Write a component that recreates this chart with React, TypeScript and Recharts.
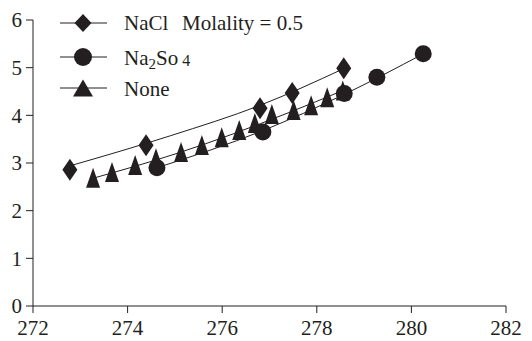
import {
  ComposedChart,
  Scatter,
  Line,
  XAxis,
  YAxis,
  Legend,
} from "recharts";

const INK = "#231f20";
const FONT = "Liberation Serif";

// measured points
const naclT = [272.78, 274.39, 276.8, 277.48, 278.57];
const naclV = [2.86, 3.37, 4.15, 4.47, 4.99];

const na2so4T = [274.62, 276.86, 278.58, 279.27, 280.25];
const na2so4V = [2.9, 3.65, 4.46, 4.8, 5.29];

const noneT = [
  273.27, 273.67, 274.16, 274.6, 275.13, 275.57, 275.99, 276.36, 276.69,
  277.05, 277.51, 277.88, 278.22, 278.55,
];
const noneV = [
  2.69, 2.81, 2.96, 3.1, 3.23, 3.38, 3.54, 3.69, 3.84, 4.03, 4.11, 4.21, 4.38,
  4.52,
];

// fitted trend curves
const naclFitT = [272.78, 274.9, 276.8, 278.57];
const naclFitV = [2.94, 3.57, 4.21, 4.98];
const na2so4FitT = [274.62, 276.86, 278.58, 280.25];
const na2so4FitV = [2.9, 3.68, 4.44, 5.29];
const noneFitT = [273.27, 275.07, 277.39, 278.55];
const noneFitV = [2.68, 3.21, 4.05, 4.52];

const xTicks = [272, 274, 276, 278, 280, 282];
const yTicks = [0, 1, 2, 3, 4, 5, 6];

const zip = (t: number[], v: number[]) => t.map((x, i) => ({ x, y: v[i] }));

const diamond = (cx: number, cy: number, w: number, h: number) =>
  `M${cx},${cy - h / 2}L${cx + w / 2},${cy}L${cx},${cy + h / 2}L${cx - w / 2},${cy}Z`;
const triangle = (cx: number, cy: number, w: number, h: number) =>
  `M${cx},${cy - h / 2}L${cx + w / 2},${cy + h / 2}L${cx - w / 2},${cy + h / 2}Z`;

const DiamondDot = (p: any) => <path d={diamond(p.cx, p.cy, 15, 22)} fill={INK} />;
const CircleDot = (p: any) => <circle cx={p.cx} cy={p.cy} r={8.5} fill={INK} />;
const TriangleDot = (p: any) => <path d={triangle(p.cx, p.cy, 14, 20)} fill={INK} />;

function LegendBox() {
  const rows = [23, 57, 88];
  return (
    <svg width={330} height={110} style={{ display: "block" }}>
      {rows.map((y) => (
        <line key={y} x1={60} x2={107} y1={y} y2={y} stroke={INK} strokeWidth={1} />
      ))}
      <path d={diamond(83, 23, 17, 18)} fill={INK} />
      <circle cx={83} cy={57} r={9} fill={INK} />
      <path d={triangle(83, 88, 20, 17)} fill={INK} />
      <g fontFamily={FONT} fontSize={21} fill={INK}>
        <text x={124} y={30}>NaCl</text>
        <text x={182} y={30}>Molality = 0.5</text>
        <text x={124} y={65}>
          Na<tspan fontSize={15} dy={4}>2</tspan>
          <tspan dy={-4}>So</tspan>
          <tspan fontSize={16} dx={4} dy={1}>4</tspan>
        </text>
        <text x={124} y={96}>None</text>
      </g>
    </svg>
  );
}

export default function App() {
  const tick = { fontSize: 21, fill: INK, fontFamily: FONT };
  return (
    <div style={{ position: "absolute", left: 0, top: 0, background: "#fff" }}>
      <ComposedChart
        width={532}
        height={341}
        margin={{ top: 20, right: 26, bottom: 0, left: 0 }}
      >
        <XAxis
          type="number"
          dataKey="x"
          domain={[272, 282]}
          ticks={xTicks}
          allowDataOverflow
          height={35}
          tickSize={7}
          tickMargin={7}
          tick={tick}
          stroke={INK}
          interval={0}
        />
        <YAxis
          type="number"
          dataKey="y"
          domain={[0, 6]}
          ticks={yTicks}
          width={33}
          tickSize={7}
          tickMargin={4}
          tick={tick}
          stroke={INK}
          interval={0}
        />
        <Legend
          layout="vertical"
          align="center"
          verticalAlign="middle"
          wrapperStyle={{ left: 0, top: 0, width: 330, height: 110 }}
          content={() => <LegendBox />}
        />
        <Line data={zip(naclFitT, naclFitV)} dataKey="y" type="monotone" stroke={INK} strokeWidth={1} dot={false} activeDot={false} isAnimationActive={false} legendType="none" />
        <Line data={zip(na2so4FitT, na2so4FitV)} dataKey="y" type="monotone" stroke={INK} strokeWidth={1} dot={false} activeDot={false} isAnimationActive={false} legendType="none" />
        <Line data={zip(noneFitT, noneFitV)} dataKey="y" type="monotone" stroke={INK} strokeWidth={1} dot={false} activeDot={false} isAnimationActive={false} legendType="none" />
        <Scatter name="None" data={zip(noneT, noneV)} shape={TriangleDot} isAnimationActive={false} />
        <Scatter name="Na2So4" data={zip(na2so4T, na2so4V)} shape={CircleDot} isAnimationActive={false} />
        <Scatter name="NaCl" data={zip(naclT, naclV)} shape={DiamondDot} isAnimationActive={false} />
      </ComposedChart>
    </div>
  );
}
